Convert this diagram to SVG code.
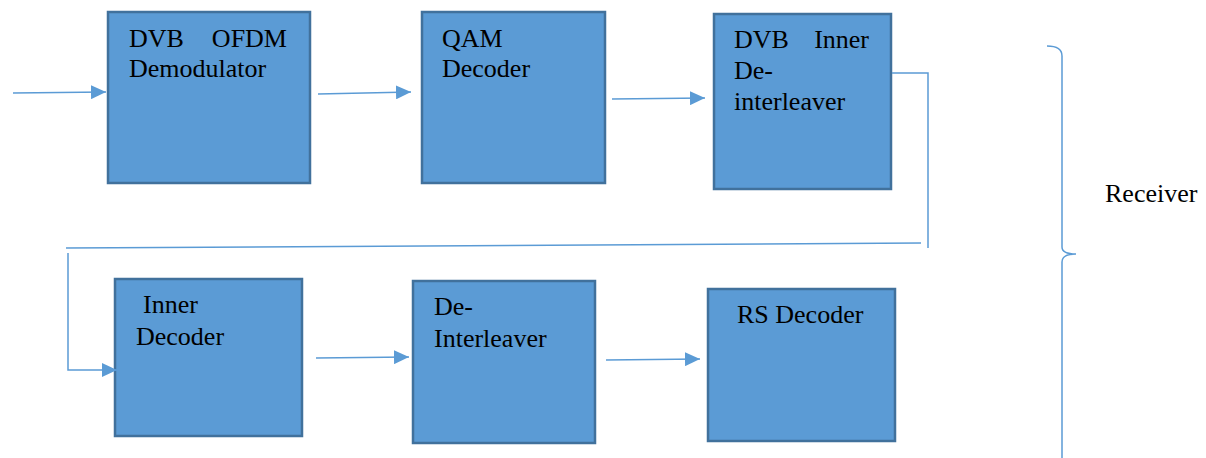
<svg xmlns="http://www.w3.org/2000/svg" width="1206" height="458" viewBox="0 0 1206 458">
  <style>
    .box { fill: #5B9BD5; stroke: #41719C; stroke-width: 2.5; }
    .lbl { font-family: "Liberation Serif", "Times New Roman", serif; font-size: 26px; fill: #000; }
    .wire { fill: none; stroke: #5B9BD5; stroke-width: 1.5; }
  </style>
  <defs>
    <marker id="head" markerUnits="userSpaceOnUse" markerWidth="15" markerHeight="14" refX="15" refY="7" orient="auto">
      <path d="M0,0 L15,7 L0,14 z" fill="#5B9BD5"/>
    </marker>
  </defs>
  <rect width="1206" height="458" fill="#ffffff"/>

  <!-- processing blocks -->
  <g id="ofdm-demod">
    <rect class="box" x="108" y="12" width="202" height="171"/>
    <text class="lbl" x="129" y="47">DVB</text>
    <text class="lbl" x="287" y="47" text-anchor="end">OFDM</text>
    <text class="lbl" x="129" y="77">Demodulator</text>
  </g>
  <g id="qam-decoder">
    <rect class="box" x="422" y="12" width="183" height="171"/>
    <text class="lbl" x="442" y="47">QAM</text>
    <text class="lbl" x="442" y="77">Decoder</text>
  </g>
  <g id="inner-deinterleaver">
    <rect class="box" x="714" y="14" width="177" height="175"/>
    <text class="lbl" x="734" y="48">DVB</text>
    <text class="lbl" x="869" y="48" text-anchor="end">Inner</text>
    <text class="lbl" x="734" y="79">De-</text>
    <text class="lbl" x="734" y="110">interleaver</text>
  </g>
  <g id="inner-decoder">
    <rect class="box" x="115" y="279" width="187" height="157"/>
    <text class="lbl" x="143" y="313">Inner</text>
    <text class="lbl" x="136" y="345">Decoder</text>
  </g>
  <g id="deinterleaver">
    <rect class="box" x="413" y="281" width="182" height="162"/>
    <text class="lbl" x="434" y="315">De-</text>
    <text class="lbl" x="434" y="347">Interleaver</text>
  </g>
  <g id="rs-decoder">
    <rect class="box" x="708" y="289" width="187" height="152"/>
    <text class="lbl" x="737" y="323">RS Decoder</text>
  </g>

  <!-- signal flow -->
  <g id="connectors">
    <line class="wire" x1="13" y1="93" x2="106" y2="92" marker-end="url(#head)"/>
    <line class="wire" x1="318" y1="94" x2="411" y2="92" marker-end="url(#head)"/>
    <line class="wire" x1="612" y1="99" x2="705" y2="98" marker-end="url(#head)"/>
    <polyline class="wire" points="892,73 928,73 928,248"/>
    <line class="wire" x1="921" y1="243" x2="66" y2="248"/>
    <polyline class="wire" points="68,253 68,370 117,370" marker-end="url(#head)"/>
    <line class="wire" x1="316" y1="358" x2="409" y2="357" marker-end="url(#head)"/>
    <line class="wire" x1="606" y1="360" x2="700" y2="359" marker-end="url(#head)"/>
  </g>

  <!-- receiver bracket -->
  <g id="receiver">
    <path class="wire" d="M1047,46 Q1062,46 1062,56 L1062,247 Q1062,254 1076,254 Q1062,254 1062,262 L1062,458"/>
    <text class="lbl" x="1105" y="202">Receiver</text>
  </g>
</svg>
